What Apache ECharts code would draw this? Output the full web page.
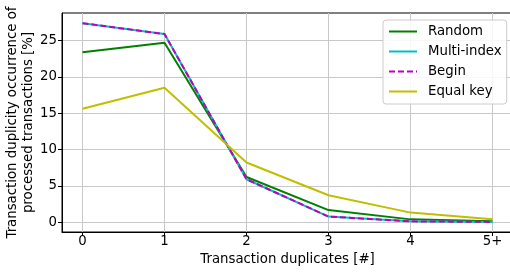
<!DOCTYPE html>
<html><head><meta charset="utf-8">
<script src="https://cdn.jsdelivr.net/npm/echarts@6/dist/echarts.min.js"></script>
<style>html,body{margin:0;padding:0;background:#fff}#c{width:510px;height:272px}</style>
</head><body><div id="c"></div>
<script>
const xValues = [0, 1, 2, 3, 4, 5];
const xTickLabels = ['0', '1', '2', '3', '4', '5+'];
const yTicks = [0, 5, 10, 15, 20, 25];
const random = [23.4, 24.7, 6.2, 1.65, 0.37, 0.1];
const multiIndex = [27.4, 25.9, 5.9, 0.75, 0.1, 0.02];
const begin = [27.4, 25.9, 5.9, 0.75, 0.1, 0.02];
const equalKey = [15.6, 18.5, 8.2, 3.7, 1.3, 0.37];
const seriesNames = ['Random', 'Multi-index', 'Begin', 'Equal key'];

const font = 'DejaVu Sans';
const fs = 13.3;
const pair = arr => arr.map((v, i) => [xValues[i], v]);
const chart = echarts.init(document.getElementById('c'), null, {renderer: 'canvas'});
chart.setOption({
  animation: false,
  textStyle: {fontFamily: font, color: '#000'},
  grid: {left: 62, top: 13, width: 451, height: 219, containLabel: false, outerBoundsMode: 'none',
    show: true, borderColor: '#000', borderWidth: 1, backgroundColor: 'transparent'},
  legend: {
    orient: 'vertical', left: 383, top: 20, itemWidth: 28, itemHeight: 10, itemGap: 7,
    padding: [5, 5, 6, 5], backgroundColor: 'rgba(255,255,255,0.85)', borderColor: '#ccc', borderWidth: 1, borderRadius: 3,
    itemStyle: {opacity: 0},
    textStyle: {fontFamily: font, fontSize: fs, color: '#000', padding: [0, 0, 0, 6]},
    data: seriesNames
  },
  xAxis: {
    type: 'value', min: -0.25, max: 5.25,
    name: 'Transaction duplicates [#]', nameLocation: 'middle', nameGap: 21, nameMoveOverlap: false,
    nameTextStyle: {fontFamily: font, fontSize: fs, color: '#000'},
    axisLine: {show: true, onZero: false, lineStyle: {color: '#000', width: 1}},
    axisTick: {show: true, length: 4, inside: false, lineStyle: {color: '#000'}, customValues: xValues},
    axisLabel: {fontFamily: font, fontSize: fs, color: '#000', margin: 3, customValues: xValues,
      formatter: v => xTickLabels[xValues.indexOf(v)] ?? ''},
    splitLine: {show: true, lineStyle: {color: '#c8c8c8', width: 1}}
  },
  yAxis: {
    type: 'value', min: -1.37, max: 28.8,
    name: 'Transaction duplicity occurrence of\nprocessed transactions [%]', nameLocation: 'middle', nameGap: 25, nameMoveOverlap: false,
    nameTextStyle: {fontFamily: font, fontSize: fs, color: '#000', lineHeight: 16},
    axisLine: {show: true, onZero: false, lineStyle: {color: '#000', width: 1}},
    axisTick: {show: true, length: 4, lineStyle: {color: '#000'}, customValues: yTicks},
    axisLabel: {fontFamily: font, fontSize: fs, color: '#000', margin: 5, customValues: yTicks},
    splitLine: {show: true, lineStyle: {color: '#c8c8c8', width: 1}}
  },
  series: [
    {name: 'Random', type: 'line', data: pair(random), symbol: 'none', lineStyle: {color: '#008000', width: 2}, itemStyle: {color: '#008000'}},
    {name: 'Multi-index', type: 'line', data: pair(multiIndex), symbol: 'none', lineStyle: {color: '#00bfbf', width: 2}, itemStyle: {color: '#00bfbf'}},
    {name: 'Begin', type: 'line', data: pair(begin), symbol: 'none', lineStyle: {color: '#bf00bf', width: 2, type: [6, 3]}, itemStyle: {color: '#bf00bf'}},
    {name: 'Equal key', type: 'line', data: pair(equalKey), symbol: 'none', lineStyle: {color: '#bfbf00', width: 2}, itemStyle: {color: '#bfbf00'}}
  ]
});
</script></body></html>
